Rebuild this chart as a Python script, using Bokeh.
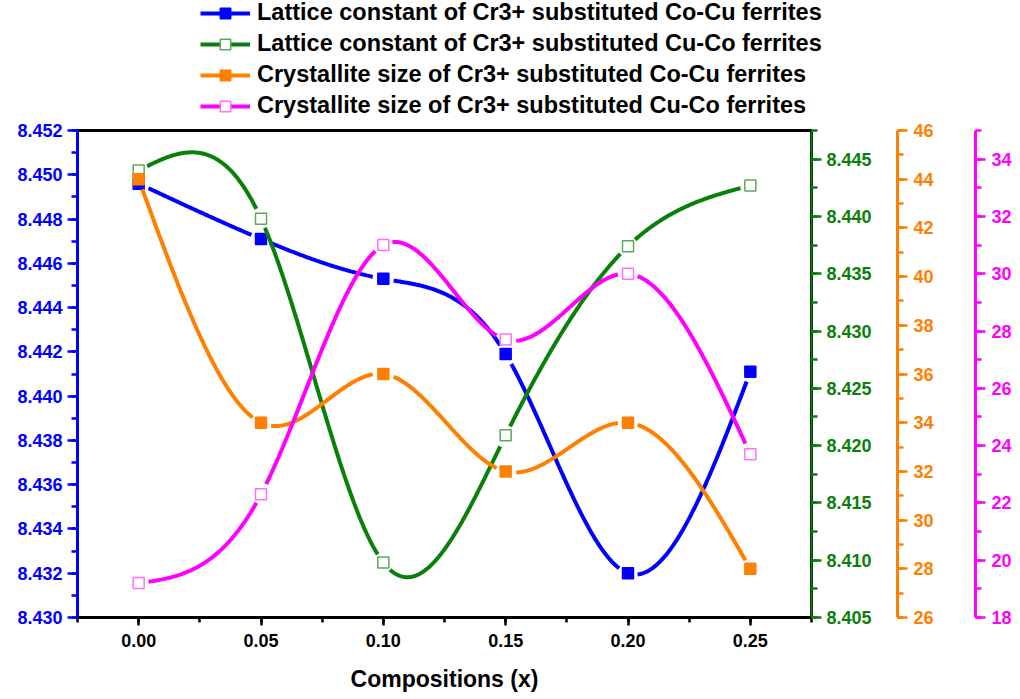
import numpy as np
from bokeh.plotting import figure
from bokeh.layouts import column, row
from bokeh.models import (Range1d, LinearAxis, SingleIntervalTicker, PrintfTickFormatter,
                          Legend, LegendItem)
from bokeh.embed import file_html
from bokeh.resources import INLINE

# ---------------- data ----------------
compositions = [0.00, 0.05, 0.10, 0.15, 0.20, 0.25]
lattice_cocu = [8.4496, 8.4471, 8.4453, 8.4419, 8.4320, 8.4411]
lattice_cuco = [8.4440, 8.4398, 8.4098, 8.4209, 8.4374, 8.4427]
cryst_cocu = [44.0, 34.0, 36.0, 32.0, 34.0, 28.0]
cryst_cuco = [19.2, 22.3, 31.0, 27.7, 30.0, 23.7]

labels = [
    "Lattice constant of Cr3+ substituted Co-Cu ferrites",
    "Lattice constant of Cr3+ substituted Cu-Co ferrites",
    "Crystallite size of Cr3+ substituted Co-Cu ferrites",
    "Crystallite size of Cr3+ substituted Cu-Co ferrites",
]
x_label = "Compositions (x)"

# ---------------- style ----------------
FONT = "Liberation Sans"
BLUE, GREEN, ORANGE, MAGENTA = "#0000ff", "#0a800a", "#ff8000", "#ff00ff"
X_RANGE = (-0.025, 0.275)
Y_RANGES = {
    "default": (8.430, 8.452),
    "green": (8.405, 8.4475),
    "orange": (26, 46),
    "mag": (18, 35),
}
FRAME_W, FRAME_H = 734, 487
GAP = 9.5
TOTAL_W = 1012
LEG_H = 119


def natural_spline(x, y, n=500):
    x = np.asarray(x, float)
    y = np.asarray(y, float)
    m = len(x)
    h = np.diff(x)
    A = np.zeros((m, m))
    r = np.zeros(m)
    A[0, 0] = 1
    A[-1, -1] = 1
    for i in range(1, m - 1):
        A[i, i - 1] = h[i - 1]
        A[i, i] = 2 * (h[i - 1] + h[i])
        A[i, i + 1] = h[i]
        r[i] = 6 * ((y[i + 1] - y[i]) / h[i] - (y[i] - y[i - 1]) / h[i - 1])
    M = np.linalg.solve(A, r)
    xs = np.linspace(x[0], x[-1], n)
    idx = np.clip(np.searchsorted(x, xs) - 1, 0, m - 2)
    x0, x1 = x[idx], x[idx + 1]
    hh = x1 - x0
    a = (x1 - xs) / hh
    b = (xs - x0) / hh
    ys = a * y[idx] + b * y[idx + 1] + ((a ** 3 - a) * M[idx] + (b ** 3 - b) * M[idx + 1]) * hh ** 2 / 6
    return xs, ys


def gapped_curve(x, y, yr):
    xs, ys = natural_spline(x, y)
    px = FRAME_W / (X_RANGE[1] - X_RANGE[0])
    py = FRAME_H / (yr[1] - yr[0])
    ys = ys.copy()
    for xi, yi in zip(x, y):
        d = np.hypot((xs - xi) * px, (ys - yi) * py)
        ys[d < GAP] = np.nan
    return xs.tolist(), ys.tolist()


p = figure(frame_width=FRAME_W, frame_height=FRAME_H, output_backend="svg", toolbar_location=None,
           x_range=Range1d(*X_RANGE), y_range=Range1d(*Y_RANGES["default"]),
           min_border_left=77, min_border_top=130 - LEG_H, min_border_right=0, min_border_bottom=0)
p.extra_y_ranges = {k: Range1d(*v) for k, v in Y_RANGES.items() if k != "default"}
p.xgrid.visible = False
p.ygrid.visible = False
p.outline_line_color = "black"
p.outline_line_width = 3
p.background_fill_color = "white"
p.border_fill_color = "white"


def style_axis(ax, color, line_w=3):
    ax.axis_line_color = color
    ax.axis_line_width = line_w
    ax.major_tick_line_color = color
    ax.minor_tick_line_color = color
    ax.major_tick_line_width = 2.5
    ax.minor_tick_line_width = 2.5
    ax.major_tick_in = 0
    ax.major_tick_out = 10
    ax.minor_tick_in = 0
    ax.minor_tick_out = 6
    ax.major_label_text_color = color
    ax.major_label_text_font = FONT
    ax.major_label_text_font_style = "bold"
    ax.major_label_text_font_size = "18px"
    ax.major_label_standoff = 5


# x axis
xa = p.xaxis[0]
style_axis(xa, "black")
xa.major_tick_out = 8
xa.minor_tick_out = 5
xa.ticker = SingleIntervalTicker(interval=0.05, num_minor_ticks=2)
xa.formatter = PrintfTickFormatter(format="%.2f")
xa.major_label_standoff = 8
xa.axis_label = x_label
xa.axis_label_text_font = FONT
xa.axis_label_text_font_style = "bold"
xa.axis_label_text_font_size = "23px"
xa.axis_label_text_color = "black"
xa.axis_label_standoff = 16

# left axis
ya = p.yaxis[0]
style_axis(ya, BLUE)
ya.ticker = SingleIntervalTicker(interval=0.002, num_minor_ticks=2)
ya.formatter = PrintfTickFormatter(format="%.3f")

# right axes
g_ax = LinearAxis(y_range_name="green")
style_axis(g_ax, GREEN, line_w=2)
g_ax.ticker = SingleIntervalTicker(interval=0.005, num_minor_ticks=2)
g_ax.formatter = PrintfTickFormatter(format="%.3f")
g_ax.axis_label = " "
g_ax.axis_label_text_font_size = "14px"
g_ax.axis_label_standoff = 4
p.add_layout(g_ax, "right")

o_ax = LinearAxis(y_range_name="orange")
style_axis(o_ax, ORANGE)
o_ax.ticker = SingleIntervalTicker(interval=2, num_minor_ticks=2)
o_ax.formatter = PrintfTickFormatter(format="%d")
o_ax.major_label_standoff = 6
o_ax.axis_label = " "
o_ax.axis_label_text_font_size = "14px"
o_ax.axis_label_standoff = 20
p.add_layout(o_ax, "right")

m_ax = LinearAxis(y_range_name="mag")
style_axis(m_ax, MAGENTA)
m_ax.ticker = SingleIntervalTicker(interval=2, num_minor_ticks=2)
m_ax.formatter = PrintfTickFormatter(format="%d")
m_ax.major_label_standoff = 6
p.add_layout(m_ax, "right")

series = [
    (lattice_cocu, "default", BLUE, BLUE, BLUE),
    (lattice_cuco, "green", GREEN, "white", "#5aa85a"),
    (cryst_cocu, "orange", ORANGE, ORANGE, ORANGE),
    (cryst_cuco, "mag", MAGENTA, "white", "#ff70ff"),
]

# legend figure (sits above the chart); its own copies of the series lie outside its view
lf = figure(width=TOTAL_W, height=LEG_H, output_backend="svg", toolbar_location=None,
            x_range=Range1d(*X_RANGE), y_range=Range1d(1000, 1001),
            x_axis_location=None, y_axis_location=None,
            min_border=0, outline_line_color=None)
lf.xgrid.visible = False
lf.ygrid.visible = False

items = []
for (vals, rname, col, fill, edge), lab in zip(series, labels):
    xs, ys = gapped_curve(compositions, vals, Y_RANGES[rname])
    p.line(xs, ys, line_color=col, line_width=4, y_range_name=rname)
    p.scatter(compositions, vals, marker="square", size=11, fill_color=fill,
              line_color=edge, line_width=1.5, y_range_name=rname)
    lr = lf.line(compositions, vals, line_color=col, line_width=4)
    sr = lf.scatter(compositions, vals, marker="square", size=11, fill_color=fill,
                    line_color=edge, line_width=1.5)
    items.append(LegendItem(label=lab, renderers=[lr, sr]))

legend = Legend(items=items, location=(200, 0), orientation="vertical",
                glyph_width=50, glyph_height=26, label_height=26, spacing=4,
                label_standoff=7, padding=0, margin=0,
                label_text_font=FONT, label_text_font_style="bold",
                label_text_font_size="23.5px", label_text_color="black",
                border_line_color=None, background_fill_alpha=0)
lf.add_layout(legend)

layout = column(row(lf), p, spacing=0)
open("out.html", "w").write(file_html(layout, INLINE))
